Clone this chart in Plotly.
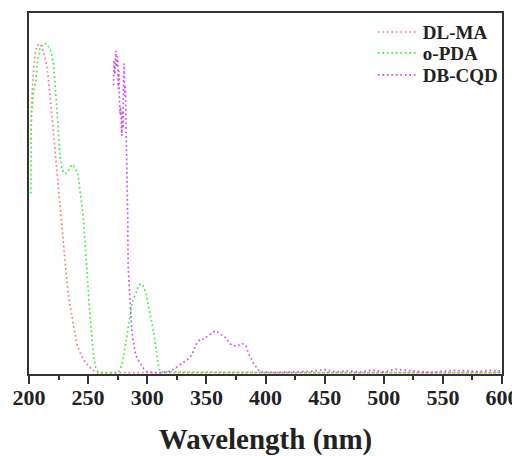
import plotly.graph_objects as go

# ---------------- data (normalized absorbance) ----------------
dlma_wl = [201.5, 202.5, 204, 205.5, 207, 209, 211, 213, 214.5, 216, 217.5, 219.5, 221,
           222.8, 224.3, 226, 228, 229.3, 231, 232.7, 234.4, 236.1, 237.8, 239.5, 241.2,
           244.5, 248, 251.6, 255, 258, 300, 400, 500, 600]
dlma_ab = [0.65, 0.77, 0.85, 0.895, 0.91, 0.915, 0.905, 0.88, 0.865, 0.83, 0.78, 0.725, 0.66,
           0.59, 0.535, 0.465, 0.39, 0.345, 0.275, 0.235, 0.197, 0.16, 0.13, 0.10, 0.075,
           0.05, 0.03, 0.018, 0.008, 0.004, 0.004, 0.004, 0.004, 0.004]

opda_wl = [201.5, 202, 204, 205.7, 207.3, 209, 212, 215, 217.8, 219.5, 221, 222.8, 224.3,
           226, 227.5, 229.3, 231, 233, 234.4, 236, 238, 240, 241.5, 242.9, 244.6, 246.3,
           248, 249.7, 251.4, 253, 254.8, 256.5, 258, 260, 275, 276, 277, 278.6, 280.3,
           282, 283.7, 285, 286.5, 288.8, 290.5, 292.4, 294.5, 296.5, 299, 300.6, 302.3,
           304, 305.7, 307.4, 309, 310.8, 400, 500, 600]
opda_ab = [0.50, 0.72, 0.78, 0.81, 0.87, 0.90, 0.915, 0.915, 0.90, 0.88, 0.85, 0.78, 0.70,
           0.61, 0.575, 0.557, 0.555, 0.56, 0.568, 0.58, 0.575, 0.565, 0.55, 0.52, 0.47, 0.42,
           0.32, 0.25, 0.17, 0.10, 0.045, 0.018, 0.008, 0.004, 0.004, 0.008, 0.014, 0.025, 0.055,
           0.089, 0.116, 0.15, 0.186, 0.213, 0.224, 0.245, 0.25, 0.245, 0.224, 0.20, 0.17,
           0.14, 0.11, 0.065, 0.033, 0.006, 0.004, 0.004, 0.004]

dbcqd_wl = [271.5, 272, 272.5, 273.3, 274, 275, 275.5, 276, 276.5, 277, 277.5, 278, 278.5,
            279, 279.5, 280, 280.5, 281, 281.5, 282, 282.3, 282.5, 282.7, 283, 283.5, 283.8,
            284.5, 285.4, 286, 287, 288.8, 290, 292, 294, 297, 300, 310, 320, 324.3, 328,
            331, 334, 337.6, 339, 341, 344.6, 348, 351, 354, 357.9, 361, 364, 366.6, 369,
            372, 376.5, 379.9, 383.5, 386.3, 388.3, 389.7, 392, 395, 410, 425, 440, 450, 460,
            470, 480, 490, 500, 510, 520, 530, 540, 550, 560, 570, 580, 590, 600]
dbcqd_ab = [0.80, 0.87, 0.83, 0.895, 0.85, 0.88, 0.79, 0.84, 0.76, 0.72, 0.74, 0.70, 0.66,
            0.73, 0.68, 0.82, 0.86, 0.77, 0.80, 0.70, 0.66, 0.60, 0.57, 0.50, 0.43, 0.30,
            0.26, 0.24, 0.20, 0.116, 0.08, 0.055, 0.04, 0.03, 0.015, 0.006, 0.003, 0.008, 0.018, 0.028,
            0.033, 0.04, 0.052, 0.064, 0.08, 0.097, 0.097, 0.105, 0.112, 0.12, 0.112, 0.105, 0.10, 0.088,
            0.078, 0.078, 0.085, 0.078, 0.052, 0.04, 0.03, 0.02, 0.006, 0.004, 0.006, 0.008, 0.012, 0.006,
            0.009, 0.005, 0.011, 0.006, 0.013, 0.010, 0.005, 0.004, 0.008, 0.010, 0.009, 0.007, 0.010, 0.008]

series_names = ["DL-MA", "o-PDA", "DB-CQD"]
x_ticks = [200, 250, 300, 350, 400, 450, 500, 550, 600]
x_minor = [225, 275, 325, 375, 425, 475, 525, 575]

colors = ["#ff7b7b", "#3cf03c", "#d24dff"]
FONT = "Liberation Serif"
legend_ids = ["legend", "legend2", "legend3"]
legend_rows = [0.947, 0.889, 0.828]

fig = go.Figure()
for wl, ab, name, c, lid in zip([dlma_wl, opda_wl, dbcqd_wl], [dlma_ab, opda_ab, dbcqd_ab],
                                series_names, colors, legend_ids):
    fig.add_trace(go.Scatter(x=wl, y=ab, name=name, mode="lines", legend=lid,
                             line=dict(color=c, width=1.7, dash="1.7px,2.8px")))

legend_common = dict(x=0.727, xanchor="left", yanchor="middle",
                     font=dict(family=FONT, size=19, color="#222", weight="bold"),
                     bgcolor="rgba(0,0,0,0)", itemwidth=40)

fig.update_layout(
    width=520, height=448,
    margin=dict(l=21, r=26, t=5, b=82, autoexpand=False),
    paper_bgcolor="white", plot_bgcolor="white",
    showlegend=True,
    legend=dict(y=legend_rows[0], **legend_common),
    legend2=dict(y=legend_rows[1], **legend_common),
    legend3=dict(y=legend_rows[2], **legend_common),
    xaxis=dict(range=[200, 600], tickvals=x_ticks, ticktext=[str(t) for t in x_ticks],
               automargin=False,
               showline=True, linecolor="#333", linewidth=2, mirror=True,
               ticks="outside", ticklen=8, tickwidth=2, tickcolor="#333",
               ticklabelstandoff=-5,
               minor=dict(tickvals=x_minor, ticks="outside", ticklen=4, tickwidth=2,
                          tickcolor="#333"),
               showgrid=False, zeroline=False,
               tickfont=dict(family=FONT, size=22, color="#222", weight="bold"),
               title=dict(text="Wavelength (nm)", standoff=21,
                          font=dict(family=FONT, size=29, color="#222", weight="bold"))),
    yaxis=dict(range=[0, 1], showline=True, linecolor="#333", linewidth=2, mirror=True,
               automargin=False,
               showticklabels=False, ticks="", showgrid=False, zeroline=False),
)

fig.write_html("out.html")
